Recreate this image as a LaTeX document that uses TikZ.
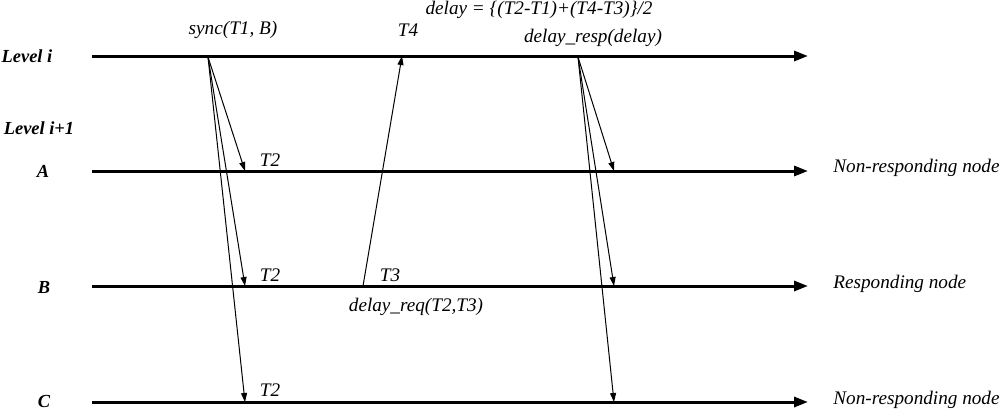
\documentclass[tikz,border=0pt]{standalone}
\usepackage{fontspec}
\setmainfont{Liberation Serif}
\usetikzlibrary{arrows.meta}
\begin{document}
\begin{tikzpicture}[x=0.5pt,y=-0.5pt,
  timeline/.style={line width=1.5pt,-{Triangle[length=7pt,width=5pt]}},
  msg/.style={line width=0.5pt,-{Triangle[length=4.5pt,width=3pt]}},
  lbl/.style={font=\fontsize{9.6}{11}\selectfont\itshape,inner sep=0pt},
  lvl/.style={font=\fontsize{9.2}{11}\selectfont\bfseries\itshape,inner sep=0pt},
  side/.style={font=\fontsize{9.6}{11}\selectfont\itshape,inner sep=0pt,anchor=west}]
\useasboundingbox (0,0) rectangle (1000,409);
% timelines
\coordinate (Ls) at (92,56);  \coordinate (Le) at (808,56);
\coordinate (As) at (92,171); \coordinate (Ae) at (808,171);
\coordinate (Bs) at (92,286); \coordinate (Be) at (808,286);
\coordinate (Cs) at (92,402); \coordinate (Ce) at (808,402);
\draw[timeline] (Ls) -- (Le);
\draw[timeline] (As) -- (Ae);
\draw[timeline] (Bs) -- (Be);
\draw[timeline] (Cs) -- (Ce);
% level labels
\node[lvl] (li) at (27,56) {Level i};
\node[lvl] (li1) at (39,128) {Level i+1};
\node[lvl] (na) at (43,171) {A};
\node[lvl] (nb) at (44,287) {B};
\node[lvl] (nc) at (44,401) {C};
% right labels
\node[side] (ra) at (833,168) {Non-responding node};
\node[side] (rb) at (833,284) {Responding node};
\node[side] (rc) at (833,400) {Non-responding node};
% sync messages
\coordinate (S) at (208,57);
\coordinate (SA) at (245,171);
\coordinate (SB) at (245,286);
\coordinate (SC) at (245,402);
\draw[msg] (S) -- (SA);
\draw[msg] (S) -- (SB);
\draw[msg] (S) -- (SC);
% delay_req
\coordinate (R) at (363,286);
\coordinate (RT) at (402,56);
\draw[msg] (R) -- (RT);
% delay_resp
\coordinate (D) at (578,57);
\coordinate (DA) at (614,171);
\coordinate (DB) at (614,286);
\coordinate (DC) at (614,402);
\draw[msg] (D) -- (DA);
\draw[msg] (D) -- (DB);
\draw[msg] (D) -- (DC);
% text labels
\node[lbl] (sync) at (233,30) {sync(T1, B)};
\node[lbl] (t4) at (408,30) {T4};
\node[lbl] (form) at (539,10) {delay = \{(T2-T1)+(T4-T3)\}/2};
\node[lbl] (resp) at (593,38) {delay\_resp(delay)};
\node[lbl] (t2a) at (270,160) {T2};
\node[lbl] (t2b) at (270,275) {T2};
\node[lbl] (t2c) at (270,390) {T2};
\node[lbl] (t3) at (390,275) {T3};
\node[lbl] (req) at (416,307) {delay\_req(T2,T3)};
\end{tikzpicture}
\end{document}
